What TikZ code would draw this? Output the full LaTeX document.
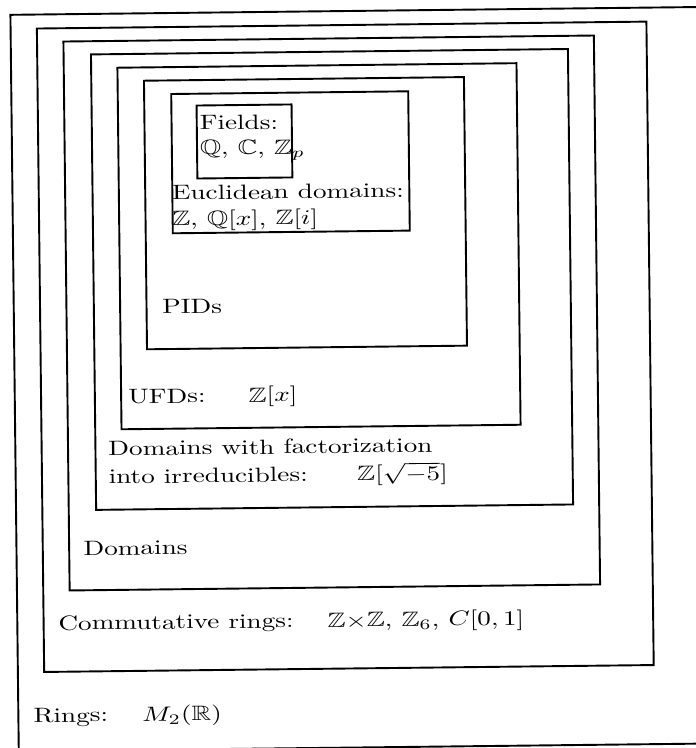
\documentclass[tikz,border=0pt]{standalone}
\usepackage{amssymb}
\usepackage{graphicx}
\newcommand{\squashtxt}[1]{\scalebox{1}[0.76]{#1}}
\begin{document}
\begin{tikzpicture}[x=0.3676pt,y=-0.3676pt,
  setbox/.style={draw, line width=0.7pt},
  lbl/.style={anchor=base west, inner sep=0pt, transform shape, font=\fontsize{10}{12}\selectfont}]
\useasboundingbox (0,0) rectangle (696,748);
\clip (0,0) rectangle (696,748);
\begin{scope}[rotate around={0.65:(348,374)}]
  % nested sets
  \draw[setbox] (14.5,11) rectangle (740,747.6);
  \draw[setbox] (40.8,25) rectangle (650.4,668.5);
  \draw[setbox] (67.2,38.3) rectangle (597.7,587.3);
  \draw[setbox] (94.6,51.5) rectangle (571.6,507);
  \draw[setbox] (120.9,65.1) rectangle (520,426.7);
  \draw[setbox] (147.3,78.4) rectangle (467.3,347);
  \draw[setbox] (174.4,92) rectangle (411.4,231.3);
  \draw[setbox] (199.6,103.8) rectangle (294.6,176.8);
  % labels
  \node[lbl] (fields1) at (202,128.3) {\squashtxt{Fields:}};
  \node[lbl] (fields2) at (202,153.3) {\squashtxt{$\mathbb{Q}$, $\mathbb{C}$, $\mathbb{Z}_p$}};
  \node[lbl] (eucl1) at (173.5,198) {\squashtxt{Euclidean domains:}};
  \node[lbl] (eucl2) at (173.5,224) {\squashtxt{$\mathbb{Z}$, $\mathbb{Q}[x]$, $\mathbb{Z}[i]$}};
  \node[lbl] (pid) at (162.5,311.5) {\squashtxt{PIDs}};
  \node[lbl] (ufd) at (127.5,401) {\squashtxt{UFDs:}};
  \node[lbl] (ufdex) at (247.7,401) {\squashtxt{$\mathbb{Z}[x]$}};
  \node[lbl] (fac1) at (107,453) {\squashtxt{Domains with factorization}};
  \node[lbl] (fac2) at (107,481) {\squashtxt{into irreducibles:}};
  \node[lbl] (facex) at (355.4,481) {\squashtxt{$\mathbb{Z}[\sqrt{-5}]$}};
  \node[lbl] (dom) at (81,552.5) {\squashtxt{Domains}};
  \node[lbl] (comm) at (55.1,627) {\squashtxt{Commutative rings:}};
  \node[lbl] (commex) at (324.1,627) {\squashtxt{$\mathbb{Z}{\times}\mathbb{Z}$, $\mathbb{Z}_6$, $C[0,1]$}};
  \node[lbl] (rings) at (29.1,719) {\squashtxt{Rings:}};
  \node[lbl] (ringsex) at (138,719) {\squashtxt{$M_2(\mathbb{R})$}};
\end{scope}
\end{tikzpicture}
\end{document}
